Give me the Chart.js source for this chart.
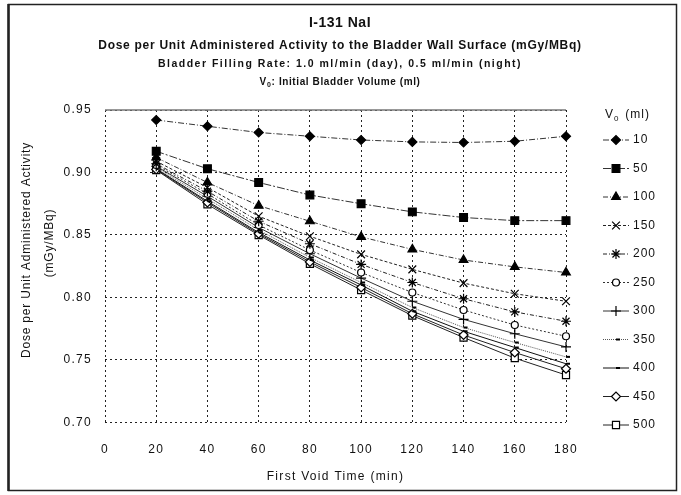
<!DOCTYPE html>
<html>
<head>
<meta charset="utf-8">
<script src="https://cdn.jsdelivr.net/npm/chart.js@4.4.1/dist/chart.umd.min.js"></script>
<style>
  html, body { margin: 0; padding: 0; background: #fff; }
  #wrap { width: 681px; height: 495px; }
</style>
</head>
<body>
<div id="wrap"><canvas id="doseChart" width="681" height="495"></canvas></div>
<script>
// first void time (min) on the x axis
const firstVoidTime = [20, 40, 60, 80, 100, 120, 140, 160, 180];
const timeTicks = [0, 20, 40, 60, 80, 100, 120, 140, 160, 180];
const doseTicks = [0.70, 0.75, 0.80, 0.85, 0.90, 0.95];

// initial bladder volume V0 (ml)
const initialVolumes = ['10', '50', '100', '150', '200', '250', '300', '350', '400', '450', '500'];

// dose per unit administered activity (mGy/MBq), one array per V0
const dose10  = [0.942, 0.937, 0.932, 0.929, 0.926, 0.9245, 0.924, 0.925, 0.929];
const dose50  = [0.917, 0.903, 0.892, 0.882, 0.875, 0.8685, 0.864, 0.8615, 0.8615];
const dose100 = [0.912, 0.892, 0.8735, 0.861, 0.8485, 0.8385, 0.830, 0.8245, 0.820];
const dose150 = [0.909, 0.888, 0.865, 0.849, 0.8345, 0.8225, 0.8115, 0.803, 0.797];
const dose200 = [0.907, 0.885, 0.861, 0.843, 0.8265, 0.812, 0.799, 0.7885, 0.781];
const dose250 = [0.906, 0.883, 0.858, 0.838, 0.820, 0.804, 0.790, 0.778, 0.769];
const dose300 = [0.905, 0.881, 0.856, 0.835, 0.8155, 0.797, 0.7825, 0.771, 0.7605];
const dose350 = [0.904, 0.879, 0.854, 0.832, 0.812, 0.792, 0.776, 0.764, 0.7525];
const dose400 = [0.903, 0.877, 0.852, 0.830, 0.810, 0.789, 0.773, 0.760, 0.747];
const dose450 = [0.9025, 0.876, 0.851, 0.8285, 0.808, 0.787, 0.770, 0.756, 0.743];
const dose500 = [0.902, 0.8745, 0.850, 0.827, 0.806, 0.7855, 0.768, 0.7515, 0.738];

const doseSeries = [dose10, dose50, dose100, dose150, dose200, dose250, dose300, dose350, dose400, dose450, dose500];

// line + marker look for each series
const seriesStyles = [
    { line: '#333', dash: [6, 2, 1, 2], marker: 'rectRot',  fill: '#000', r: 4.5 },
    { line: '#333', dash: [8, 2, 2, 2], marker: 'rect',     fill: '#000', r: 5.5 },
    { line: '#333', dash: [5, 2, 1, 2], marker: 'triangle', fill: '#000', r: 5 },
    { line: '#222', dash: [3, 2],       marker: 'crossRot', fill: '#000', r: 5.5 },
    { line: '#222', dash: [4, 2, 1, 2], marker: 'star',     fill: '#000', r: 5 },
    { line: '#333', dash: [2, 2],       marker: 'circle',   fill: '#fff', r: 3.5 },
    { line: '#333', dash: [],           marker: 'cross',    fill: '#000', r: 5 },
    { line: '#555', dash: [1, 1],       marker: 'dash',     fill: '#000', r: 4 },
    { line: '#111', dash: [],           marker: 'dash',     fill: '#000', r: 4 },
    { line: '#222', dash: [],           marker: 'rectRot',  fill: '#fff', r: 4.5 },
    { line: '#222', dash: [],           marker: 'rect',     fill: '#fff', r: 5 }
];

const FONT = '"Liberation Sans", Arial, Helvetica, sans-serif';

const datasets = doseSeries.map((values, i) => {
    const st = seriesStyles[i];
    return {
        label: initialVolumes[i],
        data: values.map((v, j) => ({ x: firstVoidTime[j], y: v })),
        borderColor: st.line,
        borderWidth: 1,
        borderDash: st.dash,
        pointStyle: st.marker,
        pointRadius: st.r,
        pointBackgroundColor: st.fill,
        pointBorderColor: '#000',
        pointBorderWidth: st.marker === 'dash' ? 2 : 1.2,
        tension: 0,
        clip: false
    };
});

function textSpaced(ctx, text, x, y, spacing) {
    ctx.letterSpacing = spacing + 'px';
    ctx.fillText(text, x, y);
    ctx.letterSpacing = '0px';
}

const decorations = {
    id: 'decorations',
    beforeDraw(chart) {
        chart.ctx.letterSpacing = '1.3px';
    },
    afterDraw(chart) {
        const ctx = chart.ctx;
        const area = chart.chartArea;
        ctx.save();
        ctx.letterSpacing = '0px';

        // outer frame
        ctx.strokeStyle = '#222';
        ctx.lineWidth = 1.5;
        ctx.strokeRect(8.5, 4.5, 668, 486);
        ctx.lineWidth = 2.5;
        ctx.beginPath();
        ctx.moveTo(8.5, 4);
        ctx.lineTo(8.5, 491);
        ctx.stroke();

        // solid top edge of the plot
        ctx.strokeStyle = '#777';
        ctx.lineWidth = 1.5;
        ctx.beginPath();
        ctx.moveTo(area.left, area.top);
        ctx.lineTo(area.right, area.top);
        ctx.stroke();

        // headings
        ctx.fillStyle = '#111';
        ctx.textAlign = 'center';
        ctx.textBaseline = 'middle';
        ctx.font = 'bold 14px ' + FONT;
        textSpaced(ctx, 'I-131 NaI', 340, 23, 0.5);
        ctx.font = 'bold 12px ' + FONT;
        textSpaced(ctx, 'Dose per Unit Administered Activity to the Bladder Wall Surface (mGy/MBq)', 340, 46, 0.72);
        ctx.font = 'bold 10.5px ' + FONT;
        textSpaced(ctx, 'Bladder Filling Rate: 1.0 ml/min (day), 0.5 ml/min (night)', 340, 64, 1.5);

        // V0 line with a real subscript
        const restText = ': Initial Bladder Volume (ml)';
        ctx.letterSpacing = '0.6px';
        const wV = ctx.measureText('V').width;
        ctx.font = 'bold 7px ' + FONT;
        const w0 = ctx.measureText('0').width;
        ctx.font = 'bold 10px ' + FONT;
        const wRest = ctx.measureText(restText).width;
        let sx = 340 - (wV + w0 + wRest) / 2;
        ctx.textAlign = 'left';
        ctx.fillText('V', sx, 82);
        ctx.font = 'bold 7px ' + FONT;
        ctx.fillText('0', sx + wV, 85);
        ctx.font = 'bold 10px ' + FONT;
        ctx.fillText(restText, sx + wV + w0, 82);
        ctx.letterSpacing = '0px';

        // y axis title, two rotated lines
        ctx.save();
        ctx.font = '12px ' + FONT;
        ctx.textAlign = 'center';
        ctx.translate(27, 250);
        ctx.rotate(-Math.PI / 2);
        textSpaced(ctx, 'Dose per Unit Administered Activity', 0, 0, 0.8);
        ctx.restore();
        ctx.save();
        ctx.font = '12px ' + FONT;
        ctx.textAlign = 'center';
        ctx.translate(50, 243);
        ctx.rotate(-Math.PI / 2);
        textSpaced(ctx, '(mGy/MBq)', 0, 0, 0.8);
        ctx.restore();

        // legend: header, then a line sample with marker per dataset
        const lx0 = 603, lx1 = 629, mx = 616, tx = 633;
        const top = 140, step = 28.5;
        ctx.font = '12px ' + FONT;
        ctx.textAlign = 'left';
        ctx.fillStyle = '#111';
        ctx.letterSpacing = '1px';
        ctx.fillText('V', 605, 115);
        const vW = ctx.measureText('V').width;
        ctx.font = '8px ' + FONT;
        ctx.fillText('0', 605 + vW, 119);
        ctx.font = '12px ' + FONT;
        ctx.fillText(' (ml)', 605 + vW + 7, 115);

        chart.data.datasets.forEach((ds, i) => {
            const y = top + i * step;
            ctx.strokeStyle = ds.borderColor;
            ctx.lineWidth = ds.borderWidth;
            ctx.setLineDash(ds.borderDash);
            ctx.beginPath();
            ctx.moveTo(lx0, y);
            ctx.lineTo(lx1, y);
            ctx.stroke();
            ctx.setLineDash([]);
            ctx.fillStyle = ds.pointBackgroundColor;
            ctx.strokeStyle = ds.pointBorderColor;
            ctx.lineWidth = ds.pointBorderWidth;
            Chart.helpers.drawPoint(ctx, {
                pointStyle: ds.pointStyle,
                radius: ds.pointRadius,
                rotation: 0,
                borderWidth: ds.pointBorderWidth
            }, mx, y);
            ctx.fillStyle = '#111';
            ctx.fillText(ds.label, tx, y);
        });
        ctx.restore();
    }
};

new Chart(document.getElementById('doseChart'), {
    type: 'line',
    data: { datasets: datasets },
    options: {
        responsive: false,
        animation: false,
        events: [],
        layout: { padding: { top: 110, right: 115, bottom: 0, left: 0 } },
        plugins: {
            legend: { display: false },
            title: { display: false },
            tooltip: { enabled: false }
        },
        scales: {
            x: {
                type: 'linear',
                min: 0,
                max: 180,
                afterBuildTicks: scale => { scale.ticks = timeTicks.map(v => ({ value: v })); },
                afterFit: scale => { scale.height = 72.5; },
                grid: { color: '#222', lineWidth: 1, drawTicks: false },
                border: { display: false, dash: [2, 3] },
                ticks: {
                    padding: 20,
                    color: '#111',
                    font: { family: FONT, size: 12 },
                    maxRotation: 0
                },
                title: {
                    display: true,
                    text: 'First Void Time (min)',
                    color: '#111',
                    font: { family: FONT, size: 12 },
                    padding: { top: 0, bottom: 11 }
                }
            },
            y: {
                min: 0.70,
                max: 0.95,
                afterBuildTicks: scale => { scale.ticks = doseTicks.map(v => ({ value: v })); },
                afterFit: scale => { scale.width = 105; },
                grid: { color: '#222', lineWidth: 1, drawTicks: false },
                border: { display: false, dash: [2, 3] },
                ticks: {
                    padding: 13,
                    color: '#111',
                    font: { family: FONT, size: 12 },
                    callback: v => v.toFixed(2)
                }
            }
        }
    },
    plugins: [decorations]
});
</script>
</body>
</html>
